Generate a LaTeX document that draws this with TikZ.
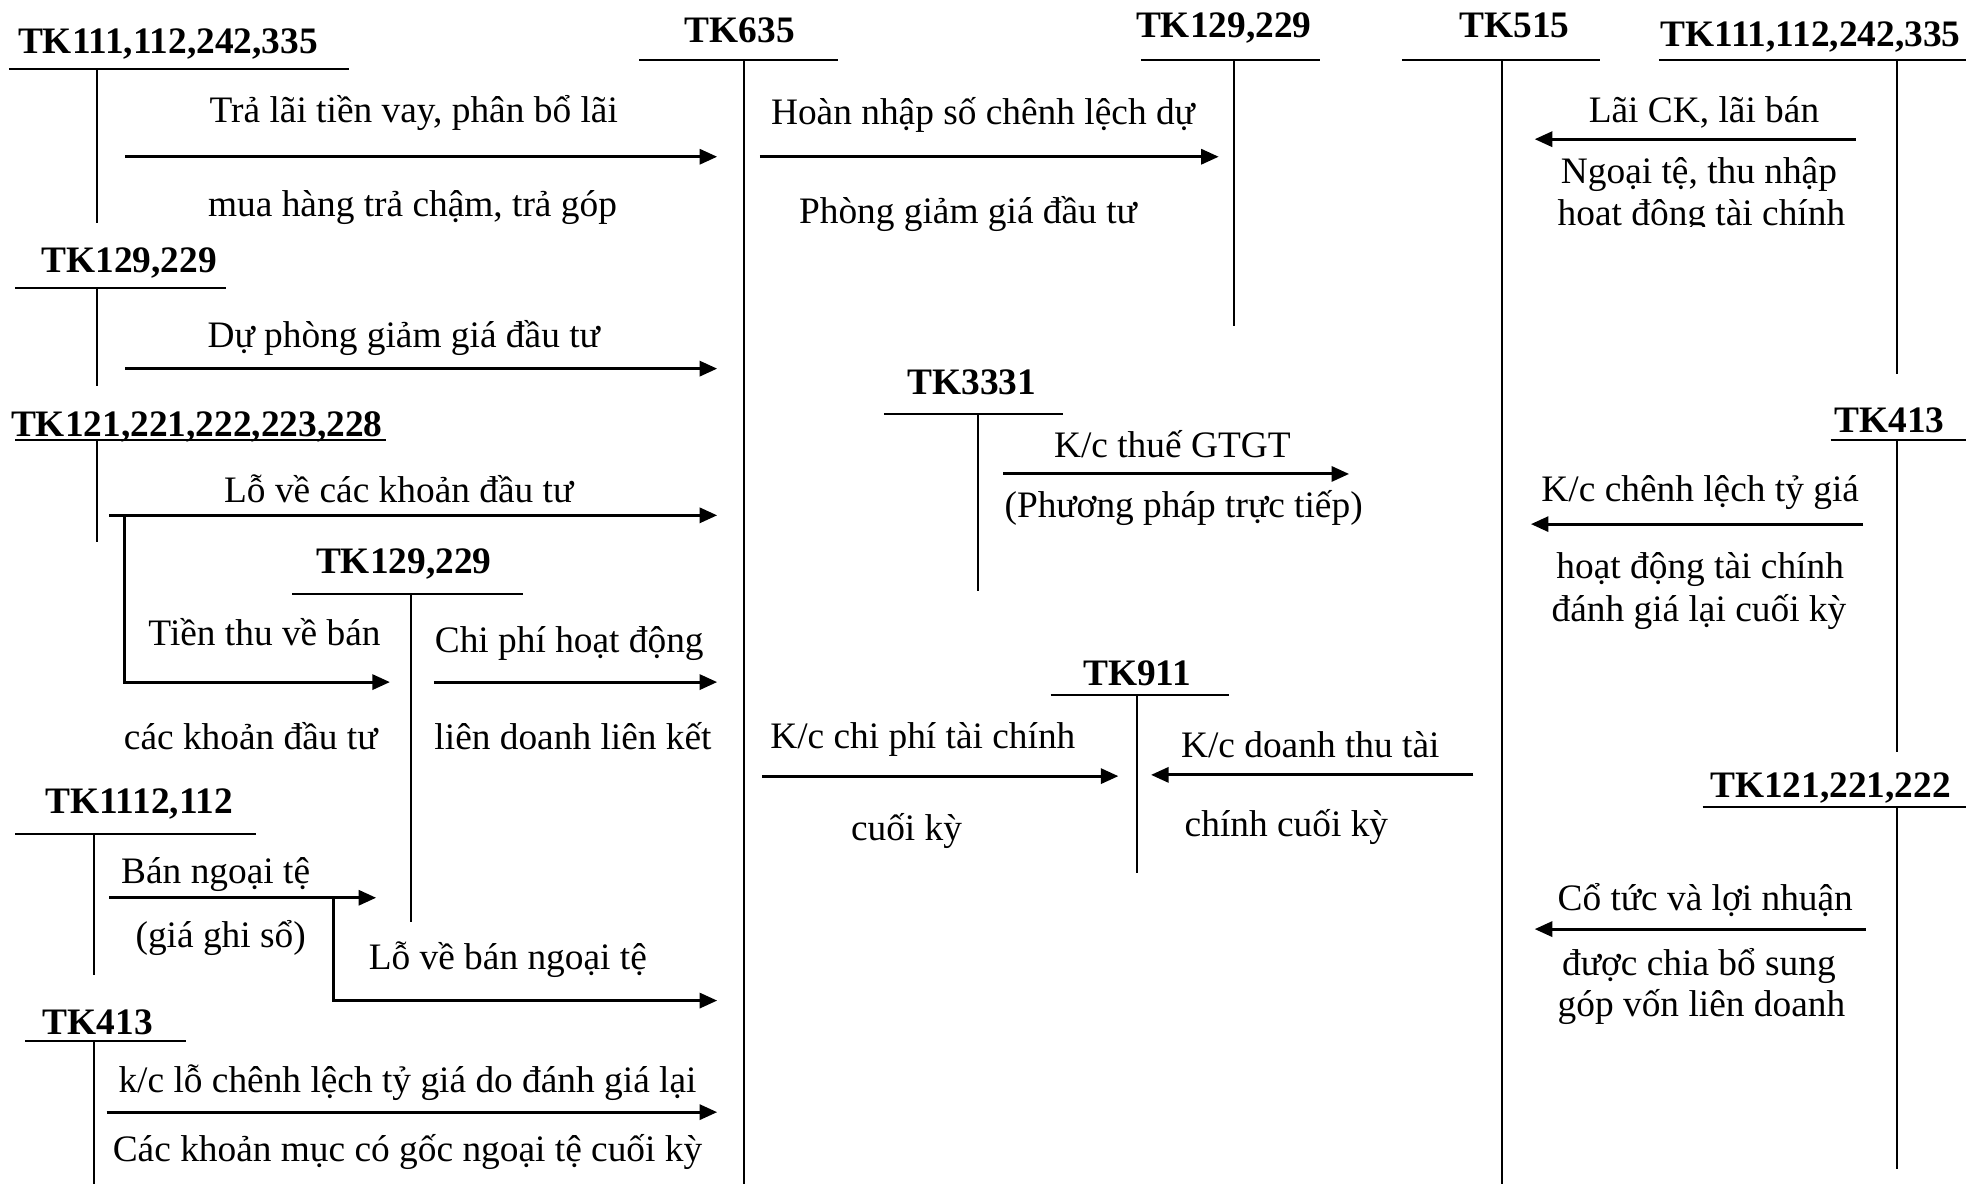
\documentclass[tikz,border=0pt]{standalone}
\usepackage{fontspec}
\setmainfont{Liberation Serif}
\usetikzlibrary{arrows.meta}
\newcommand\tacct[9]{%
  \node[acct] (#1) at (#3,#4) {#2};
  \draw[tline] (#6,#5) -- (#7,#5);
  \draw[tline] (#8,#5) -- (#8,#9);}
\begin{document}
\begin{tikzpicture}[x=0.5pt,y=-0.5pt,
  every node/.style={font=\fontsize{14.9}{17}\selectfont},
  acct/.style={font=\fontsize{14.9}{17}\selectfont\bfseries, inner sep=0pt, anchor=base, yshift=-5pt},
  lbl/.style={inner sep=0pt, anchor=base, yshift=-5pt},
  tline/.style={line width=0.8pt},
  flow/.style={line width=1.2pt, -{Triangle[length=7pt,width=6pt]}}]
\useasboundingbox (0,0) rectangle (1568,944);
% T accounts
\tacct{a1}{TK111,112,242,335}{134}{33}{55}{7}{278}{77}{178}
\tacct{a2}{TK635}{590}{24}{48}{510}{668}{593}{944}
\tacct{a3}{TK129,229}{976}{20}{48}{910}{1053}{984}{260}
\tacct{a4}{TK515}{1208}{20}{48}{1118}{1276}{1198}{944}
\tacct{a5}{TK111,112,242,335}{1444}{27}{48}{1323}{1568}{1513}{298}
\tacct{a6}{TK129,229}{103}{207}{230}{12}{180}{77}{308}
\tacct{a7}{TK121,221,222,223,228}{157}{338}{351}{12}{308}{77}{432}
\tacct{a8}{TK129,229}{322}{447}{474}{233}{417}{328}{735}
\tacct{a9}{TK1112,112}{111}{639}{665}{12}{204}{75}{778}
\tacct{a10}{TK413}{78}{815}{830}{20}{148}{75}{944}
\tacct{a11}{TK3331}{775}{305}{330}{705}{848}{780}{471}
\tacct{a12}{TK911}{907}{537}{554}{838}{980}{907}{696}
\tacct{a13}{TK413}{1507}{335}{351}{1460}{1568}{1513}{600}
\tacct{a14}{TK121,221,222}{1460}{626}{644}{1358}{1568}{1513}{932}
% flow endpoints
\coordinate (f1s) at (100,125);  \coordinate (f1e) at (572,125);
\coordinate (f2s) at (606,125);  \coordinate (f2e) at (972,125);
\coordinate (f3s) at (1480,111); \coordinate (f3e) at (1224,111);
\coordinate (f4s) at (100,294);  \coordinate (f4e) at (572,294);
\coordinate (f5s) at (87,411);   \coordinate (f5e) at (572,411);
\coordinate (f6s) at (99,411);   \coordinate (f6e) at (311,544);
\coordinate (f7s) at (346,544);  \coordinate (f7e) at (572,544);
\coordinate (f8s) at (87,716);   \coordinate (f8e) at (300,716);
\coordinate (f9s) at (266,716);  \coordinate (f9e) at (572,798);
\coordinate (f10s) at (85,887);  \coordinate (f10e) at (572,887);
\coordinate (f11s) at (800,378); \coordinate (f11e) at (1076,378);
\coordinate (f12s) at (608,619); \coordinate (f12e) at (892,619);
\coordinate (f13s) at (1175,618);\coordinate (f13e) at (918,618);
\coordinate (f14s) at (1486,418);\coordinate (f14e) at (1221,418);
\coordinate (f15s) at (1488,741);\coordinate (f15e) at (1224,741);
\draw[flow] (f1s) -- (f1e);
\draw[flow] (f2s) -- (f2e);
\draw[flow] (f3s) -- (f3e);
\draw[flow] (f4s) -- (f4e);
\draw[flow] (f5s) -- (f5e);
\draw[flow] (f6s) |- (f6e);
\draw[flow] (f7s) -- (f7e);
\draw[flow] (f8s) -- (f8e);
\draw[flow] (f9s) |- (f9e);
\draw[flow] (f10s) -- (f10e);
\draw[flow] (f11s) -- (f11e);
\draw[flow] (f12s) -- (f12e);
\draw[flow] (f13s) -- (f13e);
\draw[flow] (f14s) -- (f14e);
\draw[flow] (f15s) -- (f15e);
% labels
\node[lbl] (t1) at (330,88) {Trả lãi tiền vay, phân bổ lãi};
\node[lbl] (t2) at (329,163) {mua hàng trả chậm, trả góp};
\node[lbl] (t3) at (784,89) {Hoàn nhập số chênh lệch dự};
\node[lbl] (t4) at (772,168) {Phòng giảm giá đầu tư};
\node[lbl] (t5) at (1359,88) {Lãi CK, lãi bán};
\node[lbl] (t6) at (1355,136) {Ngoại tệ, thu nhập};
\begin{scope}
\clip (1220,150) rectangle (1500,181);
\node[lbl] (t7) at (1357,170) {hoạt động tài chính};
\end{scope}
\node[lbl] (t8) at (322,267) {Dự phòng giảm giá đầu tư};
\node[lbl] (t9) at (318,391) {Lỗ về các khoản đầu tư};
\node[lbl] (t10) at (211,505) {Tiền thu về bán};
\node[lbl] (t11) at (200,588) {các khoản đầu tư};
\node[lbl] (t12) at (454,510) {Chi phí hoạt động};
\node[lbl] (t13) at (457,588) {liên doanh liên kết};
\node[lbl] (t14) at (172,695) {Bán ngoại tệ};
\node[lbl] (t15) at (176,746) {(giá ghi sổ)};
\node[lbl] (t16) at (405,763) {Lỗ về bán ngoại tệ};
\node[lbl] (t17) at (325,861) {k/c lỗ chênh lệch tỷ giá do đánh giá lại};
\node[lbl] (t18) at (325,916) {Các khoản mục có gốc ngoại tệ cuối kỳ};
\node[lbl] (t19) at (935,355) {K/c thuế GTGT};
\node[lbl] (t20) at (944,403) {(Phương pháp trực tiếp)};
\node[lbl] (t21) at (736,587) {K/c chi phí tài chính};
\node[lbl] (t22) at (723,660) {cuối kỳ};
\node[lbl] (t23) at (1045,594) {K/c doanh thu tài};
\node[lbl] (t24) at (1026,657) {chính cuối kỳ};
\node[lbl] (t25) at (1356,390) {K/c chênh lệch tỷ giá};
\node[lbl] (t26) at (1356,451) {hoạt động tài chính};
\node[lbl] (t27) at (1355,486) {đánh giá lại cuối kỳ};
\node[lbl] (t28) at (1360,716) {Cổ tức và lợi nhuận};
\node[lbl] (t29) at (1355,768) {được chia bổ sung};
\node[lbl] (t30) at (1357,801) {góp vốn liên doanh};
\end{tikzpicture}
\end{document}
